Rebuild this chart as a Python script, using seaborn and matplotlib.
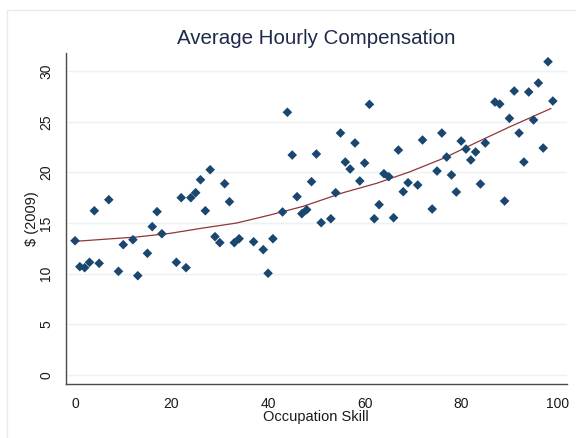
import numpy as np
import pandas as pd
import matplotlib
matplotlib.use("Agg")
import matplotlib.pyplot as plt
import seaborn as sns
from matplotlib.patches import Rectangle

# Occupation skill percentile and average hourly compensation (2009 dollars)
skill = [0, 1, 2, 3, 4, 5, 7, 9, 10, 12, 13, 15, 16, 17, 18, 21, 22, 23, 24, 25,
         26, 27, 28, 29, 30, 31, 32, 33, 34, 37, 39, 40, 41, 43, 44, 45, 46, 47, 48, 49,
         50, 51, 53, 54, 55, 56, 57, 58, 59, 60, 61, 62, 63, 64, 65, 66, 67, 68, 69, 71,
         72, 74, 75, 76, 77, 78, 79, 80, 81, 82, 83, 84, 85, 87, 88, 89, 90, 91, 92, 93,
         94, 95, 96, 97, 98, 99]
wage = [13.25, 10.69, 10.59, 11.12, 16.21, 11.02, 17.30, 10.23, 12.86, 13.35,
        9.80, 12.01, 14.64, 16.12, 13.94, 11.12, 17.50, 10.59, 17.50, 17.99,
        19.27, 16.21, 20.26, 13.65, 13.06, 18.88, 17.10, 13.06, 13.45, 13.15,
        12.37, 10.04, 13.45, 16.09, 25.93, 21.71, 17.60, 15.92, 16.31, 19.08,
        21.81, 15.03, 15.42, 17.99, 23.88, 21.02, 20.33, 22.90, 19.15, 20.92,
        26.71, 15.42, 16.81, 19.87, 19.57, 15.52, 22.20, 18.09, 18.98, 18.75,
        23.19, 16.38, 20.13, 23.88, 21.51, 19.74, 18.06, 23.09, 22.30, 21.22,
        22.01, 18.85, 22.90, 26.94, 26.74, 17.17, 25.33, 28.03, 23.88, 21.02,
        27.93, 25.17, 28.82, 22.40, 30.92, 27.04]

# Smoothed trend of compensation against skill
trend_skill = [0, 5.9, 12.8, 19.7, 26.6, 33.5, 40.4, 47.3, 55.6, 62.5, 69.4,
               76.3, 83.2, 90.1, 98.6]
trend_wage = [13.19, 13.39, 13.62, 13.98, 14.51, 15.0, 15.79, 16.65, 18.0, 18.92,
              20.06, 21.38, 22.96, 24.5, 26.3]

y_ticks = [0, 5, 10, 15, 20, 25, 30]
x_ticks = [0, 20, 40, 60, 80, 100]

df = pd.DataFrame({"skill": skill, "wage": wage})
trend = pd.DataFrame({"skill": trend_skill, "wage": trend_wage})

sns.set_theme(style="white")
plt.rcParams["font.family"] = ["Liberation Sans", "DejaVu Sans"]

W, H = 576, 438
fig = plt.figure(figsize=(W / 100, H / 100), dpi=100)
fig.patch.set_facecolor("white")

# light outline of the graph region
fig.patches.append(Rectangle((7 / W, -0.1), 1.2, 1.1 - 10 / H, transform=fig.transFigure,
                             fill=False, edgecolor="#e6edf0", linewidth=1.0, zorder=0))

ax = fig.add_axes([65.7 / W, 1 - 384 / H, (567 - 65.7) / W, (384 - 52.7) / H])
ax.set_facecolor("white")

navy = "#1a476f"
maroon = "#90353b"
axis_col = "#4a4a4a"

for yv in y_ticks:
    ax.axhline(yv, color="#eaf2f3", linewidth=1.0, zorder=0)

sns.lineplot(data=trend, x="skill", y="wage", ax=ax, color=maroon, linewidth=0.9,
             zorder=2, sort=True)
sns.scatterplot(data=df, x="skill", y="wage", ax=ax, marker="D", s=24, color=navy,
                edgecolor="none", linewidth=0, zorder=3)

ax.set_xlim(-1.93, 101.93)
ax.set_ylim(-0.89, 31.81)
ax.set_xticks(x_ticks)
ax.set_yticks(y_ticks)

for side in ["top", "right"]:
    ax.spines[side].set_visible(False)
for side in ["left", "bottom"]:
    ax.spines[side].set_color(axis_col)
    ax.spines[side].set_linewidth(1.0)

ax.tick_params(axis="both", direction="out", length=4, width=1.0, color=axis_col,
               labelsize=10, labelcolor="#1a1a1a", pad=5)
plt.setp(ax.get_yticklabels(), rotation=90, va="center")

ax.set_xlabel("Occupation Skill", fontsize=10.5, color="#1a1a1a", labelpad=0)
ax.set_ylabel("$ (2009)", fontsize=10.5, color="#1a1a1a", labelpad=0)
ax.set_title("Average Hourly Compensation", fontsize=14.8, color="#1e2a4a", pad=6)

fig.savefig("out.png", dpi=100)
